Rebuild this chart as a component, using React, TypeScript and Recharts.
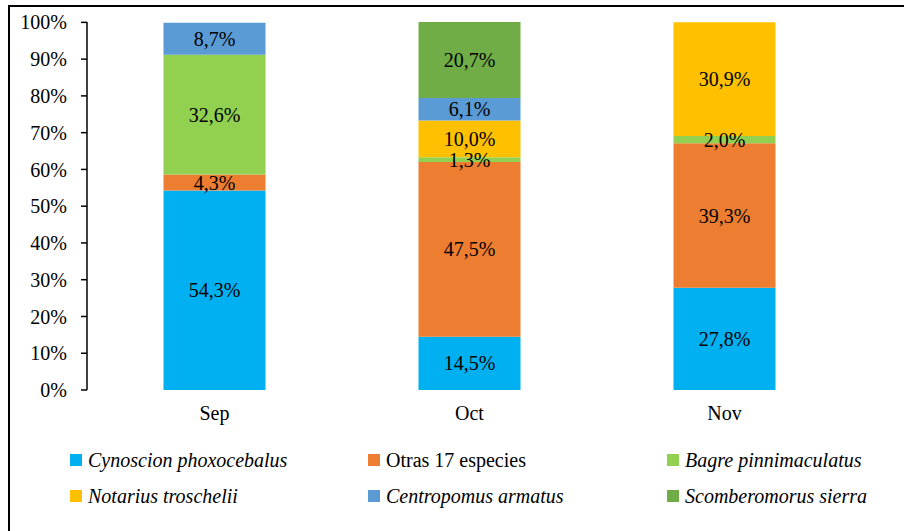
import { BarChart, Bar, XAxis, YAxis, LabelList } from "recharts";

// ── Data ─────────────────────────────────────────────────────────────────────

const months = ["Sep", "Oct", "Nov"];
const cynoscion = [54.3, 14.5, 27.8];
const otras = [4.3, 47.5, 39.3];
const bagre = [32.6, 1.3, 2.0];
const notarius = [0, 10.0, 30.9];
const centropomus = [8.7, 6.1, 0];
const scomberomorus = [0, 20.7, 0];
const yTicks = [0, 10, 20, 30, 40, 50, 60, 70, 80, 90, 100];
const edgeTicks = [0, 1, 2, 3];

const series = [
  { key: "cyn", name: "Cynoscion phoxocebalus", italic: true, color: "#00B0F0", values: cynoscion },
  { key: "otr", name: "Otras 17 especies", italic: false, color: "#ED7D31", values: otras },
  { key: "bag", name: "Bagre pinnimaculatus", italic: true, color: "#92D050", values: bagre },
  { key: "not", name: "Notarius troschelii", italic: true, color: "#FFC000", values: notarius },
  { key: "cen", name: "Centropomus armatus", italic: true, color: "#5B9BD5", values: centropomus },
  { key: "sco", name: "Scomberomorus sierra", italic: true, color: "#70AD47", values: scomberomorus },
];

const data = months.map((m, i) => {
  const row: Record<string, string | number> = { month: m };
  series.forEach((s) => (row[s.key] = s.values[i]));
  return row;
});

// ── Styles ───────────────────────────────────────────────────────────────────

const FONT = "Liberation Serif";
const tickText = { fill: "#000", fontFamily: FONT, fontSize: 20 };
const fmtPct = (v: any) => (v ? `${Number(v).toFixed(1).replace(".", ",")}%` : "");

// legend column x positions / row y positions
const legendCols = [70, 368, 667];
const legendRows = [448, 484];

export default function App() {
  return (
    <div style={{ position: "absolute", left: 0, top: 0, width: 904, height: 531, background: "#fff", overflow: "hidden", fontFamily: FONT }}>
      <div style={{
        position: "absolute", left: 8, top: 5, width: 900, height: 530,
        borderTop: "2px solid #000", borderLeft: "2px solid #000",
      }} />
      <div style={{ position: "absolute", left: 0, top: 0 }}>
        <BarChart
          width={904}
          height={531}
          data={data}
          margin={{ top: 22, right: 52, left: 27, bottom: 111 }}
          barCategoryGap="30%"
        >
          <YAxis
            width={60}
            domain={[0, 100]}
            ticks={yTicks}
            interval={0}
            tickFormatter={(v) => `${v}%`}
            tick={tickText}
            tickSize={6}
            tickMargin={14}
            axisLine={{ stroke: "#000", strokeWidth: 1.5 }}
            tickLine={{ stroke: "#000", strokeWidth: 1.5 }}
          />
          <XAxis
            xAxisId="edge"
            type="number"
            domain={[0, 3]}
            ticks={edgeTicks}
            interval={0}
            height={0}
            tickFormatter={() => ""}
            tickSize={6}
            axisLine={{ stroke: "#000", strokeWidth: 1.5 }}
            tickLine={{ stroke: "#000", strokeWidth: 1.5 }}
          />
          <XAxis
            dataKey="month"
            height={30}
            tick={tickText}
            axisLine={false}
            tickLine={false}
            tickSize={6}
            tickMargin={10}
          />
          {series.map((s) => (
            <Bar key={s.key} dataKey={s.key} stackId="a" fill={s.color} isAnimationActive={false}>
              <LabelList
                dataKey={s.key}
                position="center"
                formatter={fmtPct}
                fill="#000"
                fontFamily={FONT}
                fontSize={20}
              />
            </Bar>
          ))}
        </BarChart>
      </div>
      {series.map((s, i) => (
        <div
          key={s.key}
          style={{
            position: "absolute",
            left: legendCols[i % 3],
            top: legendRows[Math.floor(i / 3)],
            display: "flex",
            alignItems: "center",
            fontFamily: FONT,
            fontSize: 20,
            fontStyle: s.italic ? "italic" : "normal",
            color: "#000",
            lineHeight: "24px",
            whiteSpace: "nowrap",
          }}
        >
          <span style={{ display: "inline-block", width: 12, height: 12, background: s.color, marginRight: 6 }} />
          {s.name}
        </div>
      ))}
    </div>
  );
}
